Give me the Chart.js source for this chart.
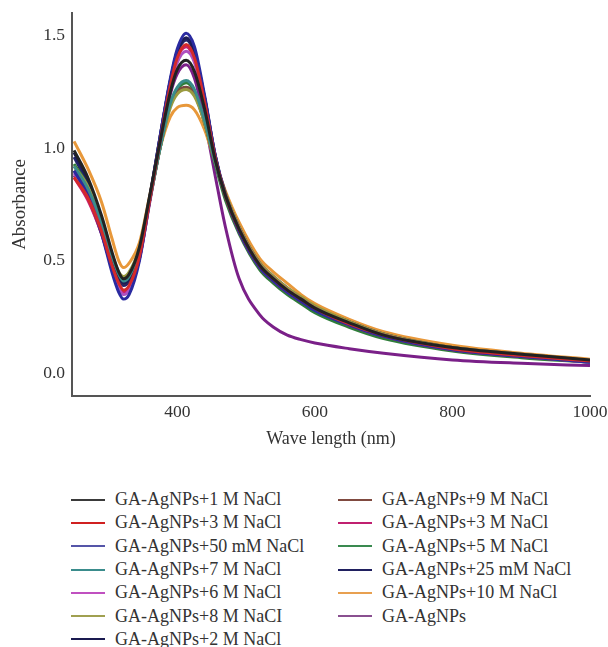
<!DOCTYPE html>
<html lang="en">
<head>
  <meta charset="UTF-8">
  <title>GA-AgNPs absorbance spectra</title>
  <script src="https://cdn.jsdelivr.net/npm/chart.js"></script>
  <style>
    body { margin: 0; background: #fff; }
    .wrap { position: relative; width: 608px; height: 647px; }
    .chart-box { position: absolute; left: 0; top: 0; width: 608px; height: 462px; }
    #legend {
      position: absolute; left: 71px; top: 488px;
      display: grid; grid-auto-flow: column;
      grid-template-rows: repeat(7, 23.3px);
      grid-template-columns: 267px 240px;
      font-family: "Liberation Serif", serif; font-size: 18px; color: #333;
    }
    #legend .item { display: flex; align-items: center; white-space: nowrap; }
    #legend .line { width: 34px; height: 2px; margin-right: 10px; }
  </style>
</head>
<body>
<div class="wrap">
  <div class="chart-box"><canvas id="spectra"></canvas></div>
  <div id="legend"></div>
</div>

<script>
  // wavelength axis (nm)
  const wavelengths = [250, 270, 290, 305, 315, 322, 330, 345, 360, 375, 390, 400, 413, 425, 440, 455, 470, 490, 520, 540, 560, 580, 600, 650, 700, 800, 900, 1000];
  const xTicks = [400, 600, 800, 1000];
  const yTicks = [0, 0.5, 1.0, 1.5];

  // absorbance readings, one list per sample
  const nacl1M   = [0.99, 0.87, 0.70, 0.54, 0.45, 0.42, 0.44, 0.56, 0.79, 1.03, 1.25, 1.35, 1.39, 1.34, 1.17, 0.95, 0.79, 0.64, 0.48, 0.42, 0.37, 0.33, 0.29, 0.225, 0.17, 0.115, 0.085, 0.06];
  const nacl3M   = [0.87, 0.78, 0.63, 0.48, 0.40, 0.37, 0.39, 0.52, 0.77, 1.03, 1.28, 1.40, 1.46, 1.40, 1.20, 0.96, 0.79, 0.64, 0.48, 0.42, 0.37, 0.33, 0.29, 0.22, 0.17, 0.11, 0.08, 0.055];
  const nacl50mM = [0.90, 0.79, 0.62, 0.45, 0.36, 0.33, 0.35, 0.50, 0.77, 1.05, 1.31, 1.44, 1.51, 1.45, 1.23, 0.97, 0.79, 0.63, 0.47, 0.41, 0.36, 0.32, 0.28, 0.215, 0.165, 0.105, 0.075, 0.05];
  const nacl7M   = [0.92, 0.82, 0.67, 0.52, 0.44, 0.41, 0.43, 0.55, 0.77, 1.00, 1.20, 1.27, 1.30, 1.26, 1.12, 0.94, 0.79, 0.64, 0.48, 0.42, 0.37, 0.33, 0.29, 0.22, 0.17, 0.11, 0.08, 0.05];
  const nacl6M   = [0.89, 0.79, 0.63, 0.47, 0.38, 0.35, 0.37, 0.51, 0.77, 1.03, 1.27, 1.38, 1.43, 1.38, 1.19, 0.96, 0.79, 0.64, 0.48, 0.42, 0.37, 0.33, 0.29, 0.22, 0.17, 0.11, 0.08, 0.05];
  const nacl8M   = [0.92, 0.83, 0.68, 0.53, 0.45, 0.43, 0.45, 0.56, 0.78, 1.00, 1.18, 1.24, 1.26, 1.23, 1.11, 0.94, 0.80, 0.65, 0.49, 0.43, 0.38, 0.34, 0.30, 0.23, 0.175, 0.115, 0.085, 0.058];
  const nacl2M   = [0.98, 0.86, 0.68, 0.51, 0.43, 0.40, 0.42, 0.54, 0.78, 1.05, 1.30, 1.43, 1.49, 1.43, 1.22, 0.97, 0.79, 0.64, 0.48, 0.42, 0.37, 0.33, 0.29, 0.22, 0.17, 0.11, 0.08, 0.055];
  const nacl9M   = [0.90, 0.81, 0.66, 0.51, 0.43, 0.40, 0.42, 0.54, 0.77, 1.00, 1.19, 1.25, 1.27, 1.24, 1.11, 0.94, 0.79, 0.64, 0.48, 0.42, 0.37, 0.33, 0.29, 0.22, 0.17, 0.11, 0.08, 0.055];
  const nacl3Mb  = [0.87, 0.77, 0.62, 0.47, 0.39, 0.36, 0.38, 0.51, 0.77, 1.03, 1.28, 1.40, 1.45, 1.39, 1.19, 0.96, 0.79, 0.63, 0.47, 0.41, 0.36, 0.32, 0.285, 0.215, 0.165, 0.105, 0.075, 0.05];
  const nacl5M   = [0.93, 0.83, 0.67, 0.52, 0.44, 0.41, 0.43, 0.55, 0.77, 1.00, 1.20, 1.26, 1.29, 1.25, 1.11, 0.93, 0.77, 0.62, 0.46, 0.40, 0.35, 0.31, 0.27, 0.205, 0.155, 0.10, 0.07, 0.05];
  const nacl25mM = [0.96, 0.84, 0.66, 0.50, 0.42, 0.39, 0.41, 0.53, 0.78, 1.05, 1.30, 1.42, 1.48, 1.42, 1.22, 0.97, 0.80, 0.65, 0.49, 0.43, 0.38, 0.335, 0.295, 0.23, 0.175, 0.115, 0.085, 0.058];
  const nacl10M  = [1.03, 0.91, 0.76, 0.60, 0.50, 0.47, 0.49, 0.58, 0.79, 1.00, 1.14, 1.18, 1.19, 1.17, 1.08, 0.94, 0.81, 0.67, 0.51, 0.45, 0.40, 0.35, 0.31, 0.24, 0.185, 0.125, 0.09, 0.063];
  const bare     = [0.88, 0.78, 0.62, 0.47, 0.39, 0.36, 0.38, 0.51, 0.76, 1.01, 1.24, 1.33, 1.37, 1.31, 1.12, 0.88, 0.65, 0.42, 0.26, 0.205, 0.17, 0.15, 0.135, 0.11, 0.09, 0.06, 0.045, 0.035];

  const labels = [
    'GA-AgNPs+1 M NaCl', 'GA-AgNPs+3 M NaCl', 'GA-AgNPs+50 mM NaCl', 'GA-AgNPs+7 M NaCl',
    'GA-AgNPs+6 M NaCl', 'GA-AgNPs+8 M NaCI', 'GA-AgNPs+2 M NaCl', 'GA-AgNPs+9 M NaCl',
    'GA-AgNPs+3 M NaCl', 'GA-AgNPs+5 M NaCl', 'GA-AgNPs+25 mM NaCl', 'GA-AgNPs+10 M NaCl', 'GA-AgNPs'
  ];
  const series = [nacl1M, nacl3M, nacl50mM, nacl7M, nacl6M, nacl8M, nacl2M, nacl9M, nacl3Mb, nacl5M, nacl25mM, nacl10M, bare];
  const lineColors = ['#222222', '#d42a2a', '#2a2aa0', '#3a8c8c', '#b050c0', '#9a9a40', '#1c1c55', '#7a4a40', '#c8206e', '#2f7d3a', '#24246a', '#e8983a', '#7a2088'];
  const keyColors  = ['#3a3a3a', '#d02020', '#5555a8', '#3a8c8c', '#c050c0', '#a0a050', '#1a1a50', '#804a40', '#c02070', '#3a8a50', '#202060', '#e8a050', '#8a5090'];

  const datasets = series.map((vals, i) => ({
    label: labels[i],
    data: vals.map((v, j) => ({ x: wavelengths[j], y: v })),
    borderColor: lineColors[i],
    backgroundColor: lineColors[i],
    borderWidth: 3,
    pointRadius: 0,
    cubicInterpolationMode: 'monotone',
    fill: false
  }));

  const serif = 'Liberation Serif';
  const ctx = document.getElementById('spectra').getContext('2d');
  const spectraChart = new Chart(ctx, {
    type: 'line',
    data: { datasets },
    options: {
      responsive: true,
      maintainAspectRatio: false,
      animation: false,
      layout: { padding: { top: 13, right: 18, left: 0, bottom: 0 } },
      plugins: { legend: { display: false }, tooltip: { enabled: false } },
      scales: {
        x: {
          type: 'linear', min: 247, max: 1000,
          afterBuildTicks: (scale) => { scale.ticks = xTicks.map(v => ({ value: v })); },
          afterFit: (scale) => { scale.height = 66; scale.paddingLeft = 0; scale.paddingRight = 0; },
          grid: { display: false, drawTicks: false },
          border: { display: true, color: '#555', width: 2 },
          ticks: { color: '#333', padding: 6, maxRotation: 0, font: { family: serif, size: 17.5 }, callback: (v) => String(v) },
          title: { display: true, text: 'Wave length (nm)', color: '#333', padding: { top: 0, bottom: 12 }, font: { family: serif, size: 18 } }
        },
        y: {
          min: -0.1, max: 1.6,
          afterBuildTicks: (scale) => { scale.ticks = yTicks.map(v => ({ value: v })); },
          afterFit: (scale) => { scale.width = 72; scale.paddingTop = 0; scale.paddingBottom = 0; },
          grid: { display: false, drawTicks: false },
          border: { display: true, color: '#555', width: 2 },
          ticks: { color: '#333', padding: 7, font: { family: serif, size: 17.5 }, callback: (v) => v.toFixed(1) },
          title: { display: true, text: 'Absorbance', color: '#333', padding: { top: 9, bottom: 0 }, font: { family: serif, size: 19 } }
        }
      }
    }
  });

  // legend in two columns, built from the chart's datasets
  const legendEl = document.getElementById('legend');
  spectraChart.data.datasets.forEach((ds, i) => {
    const item = document.createElement('div');
    item.className = 'item';
    item.innerHTML = '<span class="line" style="background:' + keyColors[i] + '"></span><span>' + ds.label + '</span>';
    legendEl.appendChild(item);
  });
</script>
</body>
</html>
